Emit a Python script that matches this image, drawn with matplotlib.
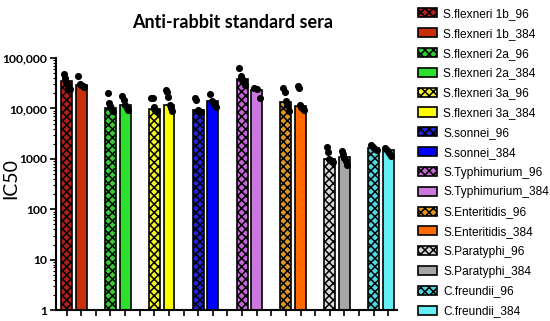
import numpy as np
import matplotlib
matplotlib.use("Agg")
import matplotlib.pyplot as plt
from matplotlib.patches import Patch

plt.rcParams["hatch.linewidth"] = 1.1

labels = ["S.flexneri 1b_96", "S.flexneri 1b_384",
          "S.flexneri 2a_96", "S.flexneri 2a_384",
          "S.flexneri 3a_96", "S.flexneri 3a_384",
          "S.sonnei_96", "S.sonnei_384",
          "S.Typhimurium_96", "S.Typhimurium_384",
          "S.Enteritidis_96", "S.Enteritidis_384",
          "S.Paratyphi_96", "S.Paratyphi_384",
          "C.freundii_96", "C.freundii_384"]

# bar heights (IC50)
bar_values = [35000, 29000, 10200, 12000, 9900, 12000, 9400, 14000,
              39000, 23000, 13300, 11000, 1000, 1080, 1650, 1530]

# individual sera points per bar
points = [
    [48000, 40000, 33000, 30000, 26000, 24000],
    [45000, 30000, 29000, 28000, 27000],
    [20000, 13000, 11000, 10000, 9500, 9000],
    [17500, 15000, 12000, 10000, 9500],
    [16500, 16500, 10500, 9500, 9000, 8800],
    [23500, 21000, 17000, 12000, 10000, 9000],
    [16500, 15000, 9500, 9000, 8500, 8500],
    [19000, 14000, 12500, 10500],
    [63000, 44000, 38000, 33000, 29000],
    [26000, 24000, 16500],
    [25500, 21500, 14000, 12000, 9000],
    [28000, 25500, 11500, 10500, 10000, 9500],
    [1750, 1400, 1000, 950, 900, 880],
    [1450, 1250, 1050, 900, 760],
    [1850, 1700, 1600, 1500],
    [1680, 1500, 1300, 1120],
]

colors = ["#B0201A", "#C8300A", "#33CC33", "#2EE02E", "#F5F52A", "#FFFF00",
          "#2222D8", "#0000FF", "#C466D8", "#CC77DD", "#E0961A", "#FF6A00",
          "#D8D8D8", "#A6A6A6", "#50D8E0", "#66EEF5"]

# positions: pairs of bars separated by an empty slot
positions = []
for g in range(8):
    positions += [3 * g, 3 * g + 1]

fig = plt.figure(figsize=(5.5, 3.21), dpi=100)
ax = fig.add_axes([0.102, 0.034, 0.62, 0.785])

for i, (x, v) in enumerate(zip(positions, bar_values)):
    checkered = labels[i].endswith("_96")
    ax.bar(x, v, width=0.75, color=colors[i], edgecolor="black", linewidth=1.2,
           hatch="xxxx" if checkered else None, log=True, zorder=2)
    pts = points[i]
    offs = np.linspace(-0.2, 0.2, len(pts))
    ax.scatter(x + offs, pts, s=26, color="black", zorder=3, linewidths=0)

ax.set_yscale("log")
ax.set_ylim(1, 100000)
ax.set_xlim(-0.72, 22.6)
ax.set_xticks(range(23))
ax.set_xticklabels([])
ax.set_yticks([1, 10, 100, 1000, 10000, 100000])
ax.set_yticklabels(["1", "10", "100", "1000", "10,000", "100,000"],
                   fontfamily="Lato", fontweight="bold", fontsize=8.7)
ax.tick_params(axis="both", which="major", direction="out", length=4, width=1.2,
               pad=2.5)
ax.tick_params(axis="y", which="minor", length=2, width=0.8)
for s in ["top", "right"]:
    ax.spines[s].set_visible(False)
for s in ["left", "bottom"]:
    ax.spines[s].set_linewidth(1.5)

fig.text(0.422, 0.93, "Anti-rabbit standard sera", ha="center", va="center",
         fontfamily="Lato", fontweight="bold", fontsize=13)
fig.text(0.02, 0.445, "IC50", rotation=90, ha="center", va="center",
         fontfamily="Lato", fontsize=14)

handles = [Patch(facecolor=colors[i], edgecolor="black", linewidth=1.2,
                 hatch="xxxx" if labels[i].endswith("_96") else None)
           for i in range(len(labels))]
fig.legend(handles, labels, loc="upper left", bbox_to_anchor=(0.752, 0.99),
           frameon=False, prop={"family": "Liberation Sans", "size": 8.6},
           handlelength=1.6, handleheight=0.8, handletextpad=0.5,
           labelspacing=0.655, borderaxespad=0)

fig.savefig("out.png", dpi=100)
